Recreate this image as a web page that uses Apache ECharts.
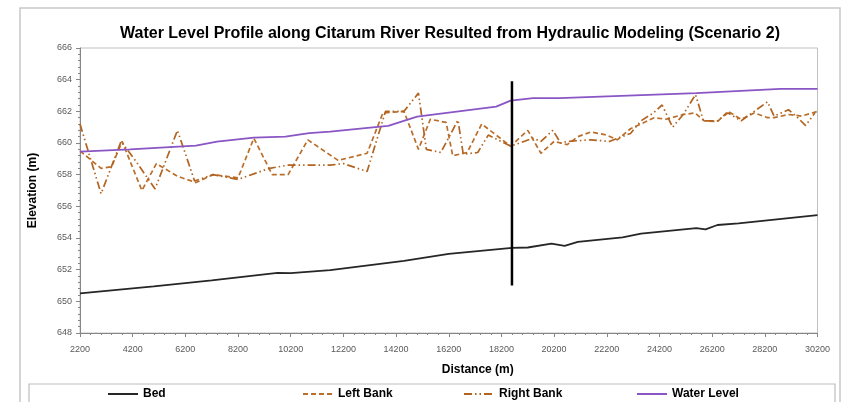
<!DOCTYPE html>
<html>
<head>
<meta charset="utf-8">
<script src="https://cdn.jsdelivr.net/npm/echarts@6/dist/echarts.min.js"></script>
<style>html,body{margin:0;padding:0;background:#fff}#c{width:842px;height:402px}</style>
</head>
<body>
<div id="c"></div>
<script>
// ---- data ----
var xTickLabels = [2200, 4200, 6200, 8200, 10200, 12200, 14200, 16200, 18200, 20200, 22200, 24200, 26200, 28200, 30200];

var bedDist = [2200, 5000, 7200, 9700, 10200, 11700, 14500, 16200, 18600, 19200, 20100, 20600, 21100, 22800, 23500, 25600, 25950, 26400, 27200, 30200];
var bedElev = [650.5, 650.95, 651.33, 651.8, 651.78, 651.97, 652.56, 653.0, 653.38, 653.4, 653.65, 653.5, 653.76, 654.04, 654.27, 654.62, 654.54, 654.82, 654.92, 655.45];

var leftDist = [2200, 3000, 3400, 3800, 4550, 5100, 5900, 6600, 7250, 8200, 8800, 9500, 10100, 10850, 12000, 13100, 13700, 14500, 15050, 15500, 16100, 16350, 16900, 17450, 18550, 19200, 19700, 20200, 20700, 21100, 21600, 22200, 22600, 23100, 23500, 24000, 24450, 25100, 25550, 25900, 26400, 26800, 27300, 27800, 28300, 28550, 29100, 29600, 30200];
var leftElev = [659.5, 658.4, 658.5, 660.1, 657.0, 658.7, 657.9, 657.5, 658.0, 657.8, 660.3, 658.0, 658.0, 660.2, 658.9, 659.35, 661.9, 662.0, 659.6, 661.5, 661.3, 659.2, 659.4, 661.2, 659.8, 660.8, 659.35, 660.1, 659.9, 660.4, 660.7, 660.5, 660.2, 660.9, 661.2, 661.6, 661.5, 661.8, 661.9, 661.4, 661.35, 662.0, 661.5, 661.9, 661.6, 661.6, 661.8, 661.7, 662.0];

var rightDist = [2200, 3000, 3760, 4300, 5050, 5900, 6550, 7250, 8200, 9400, 10100, 11700, 12200, 13100, 13800, 14500, 15050, 15350, 15900, 16550, 16750, 17300, 17700, 18550, 19400, 19700, 20150, 20450, 20700, 21600, 22300, 22600, 23100, 23500, 23970, 24300, 24700, 25100, 25570, 25870, 26400, 26800, 27300, 27800, 28300, 28550, 29100, 29450, 29750, 30100];
var rightElev = [661.2, 656.8, 660.1, 658.9, 657.1, 660.8, 657.6, 658.0, 657.7, 658.4, 658.6, 658.6, 658.7, 658.2, 662.0, 662.0, 663.15, 659.6, 659.4, 661.45, 659.3, 659.4, 660.5, 659.8, 660.3, 660.1, 660.8, 660.0, 660.1, 660.2, 660.1, 660.3, 660.6, 661.4, 661.9, 662.4, 661.0, 661.8, 663.05, 661.4, 661.4, 661.9, 661.4, 662.0, 662.6, 661.7, 662.1, 661.6, 661.1, 661.9];

var wlDist = [2200, 4100, 6600, 7400, 8800, 10000, 10900, 11700, 13600, 13900, 15000, 18000, 18550, 19400, 20400, 25600, 28800, 30200];
var wlElev = [659.46, 659.6, 659.84, 660.09, 660.34, 660.4, 660.62, 660.72, 661.04, 661.08, 661.67, 662.3, 662.68, 662.83, 662.83, 663.15, 663.42, 663.42];

var sectionDist = [18600, 18600];
var sectionElev = [651, 663.9];

// ---- helpers ----
function pairs(xs, ys) { return xs.map(function (x, i) { return [x, ys[i]]; }); }
var minorX = [];
for (var v = 2200; v <= 30200; v += 400) minorX.push(v);

var FONT = '"Liberation Sans", Arial, sans-serif';
var chart = echarts.init(document.getElementById('c'), null, { renderer: 'canvas' });

function legendItem(name, left) {
  return {
    data: [name], left: left, top: 388, itemWidth: 30, itemHeight: 14, padding: 0,
    itemStyle: { opacity: 0 },
    textStyle: { fontFamily: FONT, fontWeight: 'bold', fontSize: 12, color: '#000' }
  };
}

chart.setOption({
  animation: false,
  backgroundColor: '#fff',
  title: {
    text: 'Water Level Profile along Citarum River Resulted from Hydraulic Modeling (Scenario 2)',
    left: 445, textAlign: 'center', top: 21,
    textStyle: { fontFamily: FONT, fontWeight: 'bold', fontSize: 16, color: '#000' }
  },
  graphic: [
    { type: 'rect', shape: { x: 20, y: 8, width: 820, height: 430 }, style: { fill: null, stroke: '#c8c8c8', lineWidth: 1.5 }, silent: true, z: -1 },
    { type: 'rect', shape: { x: 29, y: 384, width: 806, height: 40 }, style: { fill: null, stroke: '#bdbdbd', lineWidth: 1.2 }, silent: true, z: -1 }
  ],
  legend: [
    legendItem('Bed', 107),
    legendItem('Left Bank', 302),
    legendItem('Right Bank', 463),
    legendItem('Water Level', 636)
  ],
  grid: { left: 80, right: 24.5, top: 48, bottom: 69, show: true, borderColor: '#c0c0c0', borderWidth: 1, backgroundColor: 'transparent' },
  xAxis: [{
    type: 'value', min: 2200, max: 30200, interval: 2000,
    name: 'Distance (m)', nameLocation: 'middle', nameGap: 31,
    nameTextStyle: { fontFamily: FONT, fontWeight: 'bold', fontSize: 12, color: '#000', padding: [0, 0, 0, 58] },
    axisLine: { show: true, lineStyle: { color: '#868686', width: 1 } },
    axisTick: { show: true, length: 4, customValues: xTickLabels, lineStyle: { color: '#868686' } },
    axisLabel: { customValues: xTickLabels, margin: 12, fontFamily: FONT, fontSize: 9, color: '#595959',
      formatter: function (val) { return String(val); } },
    splitLine: { show: false }
  }, {
    type: 'value', min: 2200, max: 30200, position: 'bottom', gridIndex: 0,
    axisLine: { show: false },
    axisTick: { show: true, length: 2, customValues: minorX, lineStyle: { color: '#868686' } },
    axisLabel: { show: false },
    splitLine: { show: false }
  }],
  yAxis: {
    type: 'value', min: 648, max: 666, interval: 2,
    name: 'Elevation (m)', nameLocation: 'middle', nameGap: 41, nameRotate: 90,
    nameTextStyle: { fontFamily: FONT, fontWeight: 'bold', fontSize: 12, color: '#000' },
    axisLine: { show: true, lineStyle: { color: '#868686', width: 1 } },
    axisTick: { show: true, length: 4, lineStyle: { color: '#868686' } },
    minorTick: { show: true, splitNumber: 5, length: 2, lineStyle: { color: '#868686' } },
    axisLabel: { margin: 8, fontFamily: FONT, fontSize: 9, color: '#595959' },
    splitLine: { show: false }
  },
  series: [
    { name: 'Bed', type: 'line', symbol: 'none', data: pairs(bedDist, bedElev),
      lineStyle: { color: '#262626', width: 1.8 }, itemStyle: { color: '#262626' }, z: 3 },
    { name: 'Left Bank', type: 'line', symbol: 'none', data: pairs(leftDist, leftElev),
      lineStyle: { color: '#BA6E2C', width: 1.7, type: [5, 3] }, itemStyle: { color: '#BA6E2C' }, z: 4 },
    { name: 'Right Bank', type: 'line', symbol: 'none', data: pairs(rightDist, rightElev),
      lineStyle: { color: '#B2631F', width: 1.7, type: [8, 3, 1.5, 3, 1.5, 3] }, itemStyle: { color: '#B2631F' }, z: 4 },
    { name: 'Water Level', type: 'line', symbol: 'none', data: pairs(wlDist, wlElev),
      lineStyle: { color: '#8A55C4', width: 1.8 }, itemStyle: { color: '#8A55C4' }, z: 5 },
    { name: 'Section', type: 'line', symbol: 'none', data: pairs(sectionDist, sectionElev),
      lineStyle: { color: '#000', width: 2.5 }, itemStyle: { color: '#000' }, z: 6 }
  ]
});
</script>
</body>
</html>
